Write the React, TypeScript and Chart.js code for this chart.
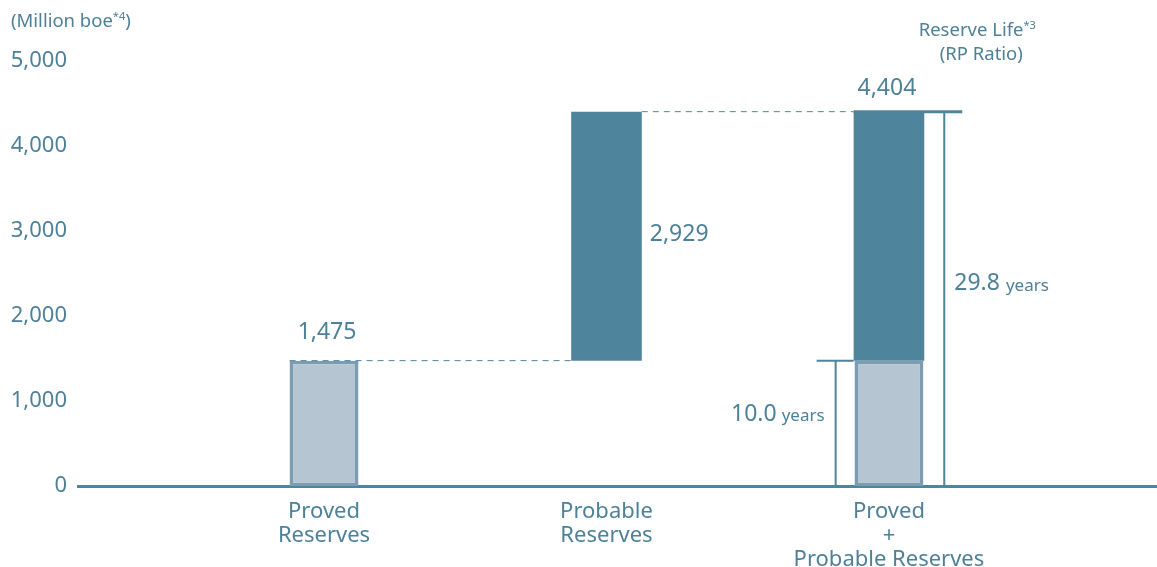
import { useEffect, useRef } from "react";
import { Chart, registerables } from "chart.js";

Chart.register(...registerables);

// Reserve categories (multi-line axis labels)
const categories: string[][] = [
  ["Proved", "Reserves"],
  ["Probable", "Reserves"],
  ["Proved", "+", "Probable Reserves"],
];

// Reserve volumes, million boe
const provedValues = [1475, null, 1475];
const probableValues = [null, 2929, 2929];
const totalValue = 4404;

// Reserve life (RP ratio), years
const provedLife = "10.0";
const totalLife = "29.8";

const yTicks = [0, 1000, 2000, 3000, 4000, 5000];

const TEXT = "#4d8199";
const DARK = "#4e849c";
const LIGHT = "#b5c5d1";
const LIGHT_BORDER = "#7b9db3";
const FONT = "'Noto Sans', sans-serif";

const fmt = (v: number) => v.toLocaleString("en-US");

function drawWithSup(ctx: CanvasRenderingContext2D, text: string, sup: string, tail: string, cx: number, cy: number, size: number) {
  ctx.font = `${size}px ${FONT}`;
  const w1 = ctx.measureText(text).width;
  const w3 = ctx.measureText(tail).width;
  ctx.font = `${Math.round(size * 0.6)}px ${FONT}`;
  const w2 = ctx.measureText(sup).width;
  let x = cx - (w1 + w2 + w3) / 2;
  ctx.textAlign = "left";
  ctx.textBaseline = "middle";
  ctx.font = `${size}px ${FONT}`;
  ctx.fillText(text, x, cy);
  x += w1;
  ctx.font = `${Math.round(size * 0.6)}px ${FONT}`;
  ctx.fillText(sup, x, cy - size * 0.28);
  x += w2;
  ctx.font = `${size}px ${FONT}`;
  ctx.fillText(tail, x, cy);
}

// bar element of a dataset at a given category index
function barAt(chart: any, datasetIndex: number, category: number) {
  const meta = chart.getDatasetMeta(datasetIndex);
  const i = meta._parsed.findIndex((p: any) => p.x === category);
  return meta.data[i].getProps(["x", "width"], true);
}

const annotationPlugin = {
  id: "reserveAnnotations",
  afterDatasetsDraw(chart: any) {
    const ctx: CanvasRenderingContext2D = chart.ctx;
    const ys = chart.scales.y;
    const b1 = barAt(chart, 0, 0);
    const b2 = barAt(chart, 1, 1);
    const b3 = barAt(chart, 1, 2);
    const y0 = ys.getPixelForValue(0);
    const yP = ys.getPixelForValue(provedValues[0] as number);
    const yT = ys.getPixelForValue(totalValue);
    const b3L = b3.x - b3.width / 2;
    const b3R = b3.x + b3.width / 2;

    ctx.save();
    // dashed connectors
    ctx.strokeStyle = DARK;
    ctx.lineWidth = 1;
    ctx.setLineDash([6, 5]);
    ctx.beginPath();
    ctx.moveTo(b1.x - b1.width / 2, yP);
    ctx.lineTo(b2.x - b2.width / 2, yP);
    ctx.moveTo(b2.x + b2.width / 2, yT);
    ctx.lineTo(b3L, yT);
    ctx.stroke();
    ctx.setLineDash([]);

    // reserve-life brackets
    const lx = b3L - 18;
    const rx = b3R + 20;
    ctx.lineWidth = 2;
    ctx.beginPath();
    ctx.moveTo(lx, y0);
    ctx.lineTo(lx, yP);
    ctx.moveTo(b3L - 37, yP);
    ctx.lineTo(b3L, yP);
    ctx.moveTo(rx, y0);
    ctx.lineTo(rx, yT);
    ctx.stroke();
    ctx.lineWidth = 3;
    ctx.beginPath();
    ctx.moveTo(b3L, yT);
    ctx.lineTo(b3R + 38, yT);
    ctx.stroke();

    // value labels
    ctx.fillStyle = TEXT;
    ctx.textBaseline = "middle";
    ctx.font = `23px ${FONT}`;
    ctx.textAlign = "center";
    ctx.fillText(fmt(provedValues[0] as number), b1.x + 3, yP - 28);
    ctx.fillText(fmt(totalValue), b3.x - 2, yT - 23);
    ctx.textAlign = "left";
    ctx.fillText(fmt(probableValues[1] as number), b2.x + b2.width / 2 + 8, (yP + yT) / 2 - 2);

    // 10.0 years (right aligned)
    ctx.font = `17px ${FONT}`;
    const yw = ctx.measureText("years").width;
    ctx.textAlign = "right";
    const ly = (y0 + yP) / 2 - 9;
    ctx.fillText("years", lx - 11, ly + 2);
    ctx.font = `23px ${FONT}`;
    ctx.fillText(provedLife, lx - 11 - yw - 5, ly);

    // 29.8 years (left aligned)
    ctx.textAlign = "left";
    const ry = (y0 + yT) / 2 - 15;
    ctx.font = `23px ${FONT}`;
    const nw = ctx.measureText(totalLife).width;
    ctx.fillText(totalLife, rx + 10, ry);
    ctx.font = `17px ${FONT}`;
    ctx.fillText("years", rx + 10 + nw + 6, ry + 2);

    // headings
    drawWithSup(ctx, "Reserve Life", "*3", "", rx + 33, 31, 18.5);
    ctx.font = `18.5px ${FONT}`;
    ctx.textAlign = "center";
    ctx.fillText("(RP Ratio)", rx + 37, 55);
    ctx.font = `18.5px ${FONT}`;
    const mw = ctx.measureText("(Million boe").width;
    ctx.font = `11px ${FONT}`;
    const sw = ctx.measureText("*4").width;
    ctx.font = `18.5px ${FONT}`;
    const pw = ctx.measureText(")").width;
    drawWithSup(ctx, "(Million boe", "*4", ")", 11 + (mw + sw + pw) / 2, 22, 18.5);
    ctx.restore();
  },
};

export default function App() {
  const canvasRef = useRef<HTMLCanvasElement | null>(null);

  useEffect(() => {
    if (!canvasRef.current) return;
    const chart = new Chart(canvasRef.current, {
      type: "bar",
      data: {
        datasets: [
          {
            label: "Proved",
            data: provedValues
              .map((v, i) => (v == null ? null : { x: i, y: [0, v] }))
              .filter(Boolean) as any,
            backgroundColor: LIGHT,
            borderColor: LIGHT_BORDER,
            borderWidth: 3.5,
            borderSkipped: false,
            grouped: false,
            barPercentage: 0.244,
            categoryPercentage: 1,
          } as any,
          {
            label: "Probable",
            data: probableValues
              .map((v, i) => {
                if (v == null) return null;
                const base = provedValues[0] as number;
                return { x: i, y: [base, base + v] };
              })
              .filter(Boolean) as any,
            backgroundColor: DARK,
            borderWidth: 0,
            grouped: false,
            barPercentage: 0.25,
            categoryPercentage: 1,
          } as any,
        ],
      },
      options: {
        animation: false,
        responsive: true,
        maintainAspectRatio: false,
        layout: { padding: { top: 61, right: 0, bottom: 0, left: 0 } },
        plugins: {
          legend: { display: false },
          tooltip: { enabled: false },
        },
        scales: {
          x: {
            type: "linear",
            min: -0.871,
            max: 2.949,
            offset: false,
            z: 1,
            grid: { display: false, drawTicks: false },
            border: { display: true, color: DARK, width: 3 },
            afterBuildTicks: (scale: any) => {
              scale.ticks = categories.map((_, i) => ({ value: i }));
            },
            afterFit: (scale: any) => {
              scale.height = 81;
            },
            ticks: {
              autoSkip: false,
              maxRotation: 0,
              minRotation: 0,
              padding: 14,
              color: TEXT,
              font: { family: FONT, size: 22, lineHeight: 1.08 },
              callback: (v: any) => categories[Math.round(Number(v))] ?? "",
            },
          },
          y: {
            min: 0,
            max: 5000,
            grid: { display: false, drawTicks: false },
            border: { display: false },
            afterBuildTicks: (scale: any) => {
              scale.ticks = yTicks.map((v) => ({ value: v }));
            },
            afterFit: (scale: any) => {
              scale.width = 78;
            },
            ticks: {
              padding: 11,
              color: TEXT,
              font: { family: FONT, size: 22 },
              callback: (v: any) => fmt(Number(v)),
            },
          },
        },
      } as any,
      plugins: [annotationPlugin],
    });
    return () => chart.destroy();
  }, []);

  return (
    <div style={{ position: "fixed", left: 0, top: 0, width: 1157, height: 567, background: "#fff" }}>
      <canvas ref={canvasRef} />
    </div>
  );
}
